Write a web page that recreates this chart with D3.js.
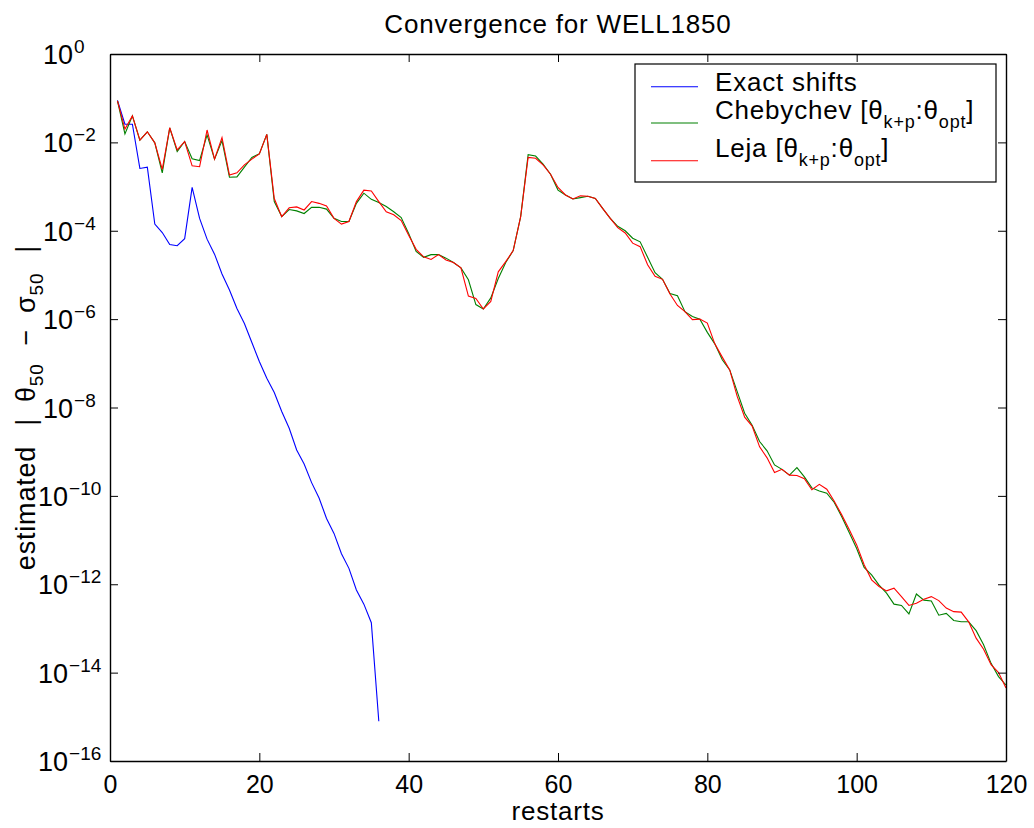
<!DOCTYPE html>
<html>
  <head>
    <meta charset="UTF-8" />
    <script src="https://d3js.org/d3.v7.min.js"></script>
    <style>
      body { margin: 0; background: #fff; }
      text { font-family: "Liberation Sans", Arial, Helvetica, sans-serif; fill: #000; }
    </style>
    <title>Convergence for WELL1850</title>
  </head>

  <body>
    <div id="chart"></div>
    <script type="text/javascript">
      // log10 of the estimated error, one value per restart (1, 2, 3, ...)
      const exactShiftsLog = [
        -1.05, -1.59, -1.59, -2.59, -2.56, -3.85, -4.04, -4.31, -4.34, -4.18,
        -3.02, -3.72, -4.19, -4.53, -4.98, -5.34, -5.76, -6.10, -6.53, -6.96,
        -7.34, -7.66, -8.09, -8.47, -8.96, -9.28, -9.70, -10.05, -10.51, -10.85,
        -11.31, -11.64, -12.13, -12.45, -12.87, -15.10
      ];
      const chebychevLog = [
        -1.06, -1.81, -1.40, -1.95, -1.76, -2.01, -2.69, -1.67, -2.21, -1.98,
        -2.37, -2.41, -1.83, -2.38, -1.96, -2.79, -2.78, -2.56, -2.34, -2.26,
        -1.82, -3.34, -3.68, -3.52, -3.55, -3.61, -3.47, -3.47, -3.51, -3.72,
        -3.79, -3.79, -3.38, -3.15, -3.29, -3.36, -3.45, -3.57, -3.70, -4.06,
        -4.47, -4.60, -4.54, -4.54, -4.62, -4.72, -4.84, -5.11, -5.67, -5.77,
        -5.52, -5.08, -4.72, -4.45, -3.68, -2.28, -2.31, -2.49, -2.72, -3.08,
        -3.19, -3.28, -3.25, -3.22, -3.27, -3.50, -3.72, -3.90, -4.00, -4.17,
        -4.25, -4.60, -4.95, -5.10, -5.42, -5.47, -5.83, -5.94, -6.00, -6.30,
        -6.56, -6.92, -7.15, -7.64, -8.13, -8.40, -8.77, -8.98, -9.30, -9.40,
        -9.53, -9.36, -9.57, -9.82, -9.89, -9.94, -10.15, -10.47, -10.83, -11.19,
        -11.62, -11.79, -12.02, -12.20, -12.45, -12.48, -12.67, -12.22, -12.36, -12.38,
        -12.70, -12.66, -12.82, -12.85, -12.85, -13.05, -13.37, -13.79, -14.09, -14.28
      ];
      const lejaLog = [
        -1.06, -1.70, -1.40, -1.95, -1.76, -2.01, -2.61, -1.67, -2.17, -1.98,
        -2.53, -2.55, -1.72, -2.38, -1.89, -2.74, -2.69, -2.51, -2.38, -2.26,
        -1.82, -3.27, -3.68, -3.48, -3.46, -3.53, -3.34, -3.38, -3.44, -3.72,
        -3.85, -3.79, -3.34, -3.08, -3.10, -3.34, -3.57, -3.64, -3.77, -4.10,
        -4.42, -4.59, -4.65, -4.54, -4.66, -4.72, -4.84, -5.48, -5.53, -5.77,
        -5.60, -4.93, -4.70, -4.45, -3.68, -2.34, -2.36, -2.51, -2.72, -3.02,
        -3.19, -3.28, -3.21, -3.22, -3.27, -3.50, -3.72, -3.93, -4.05, -4.28,
        -4.36, -4.77, -5.03, -5.10, -5.43, -5.69, -5.83, -6.01, -6.00, -6.09,
        -6.56, -6.86, -7.15, -7.75, -8.22, -8.42, -8.89, -9.14, -9.47, -9.40,
        -9.53, -9.54, -9.61, -9.86, -9.74, -9.85, -10.12, -10.43, -10.76, -11.11,
        -11.56, -11.90, -12.05, -12.15, -12.09, -12.28, -12.48, -12.43, -12.34, -12.28,
        -12.37, -12.54, -12.62, -12.63, -12.85, -13.22, -13.47, -13.82, -14.00, -14.35
      ];
      const xTicks = [0, 20, 40, 60, 80, 100, 120];
      const yTickExps = [0, -2, -4, -6, -8, -10, -12, -14, -16];

      const series = [
        { name: "Exact shifts", sub: null, color: "#0000ff", vals: exactShiftsLog },
        { name: "Chebychev [θ", sub: true, color: "#008000", vals: chebychevLog },
        { name: "Leja [θ", sub: true, color: "#ff0000", vals: lejaLog }
      ];

      const w = 1034, h = 828;
      const plotLeft = 110, plotRight = 1006, plotTop = 54, plotBottom = 761;

      const svg = d3.select("#chart").append("svg").attr("width", w).attr("height", h);

      const xScale = d3.scaleLinear().domain([0, 120]).range([plotLeft, plotRight]);
      const yScale = d3.scaleLog().domain([1e-16, 1]).range([plotBottom, plotTop]);

      // lines
      const line = d3.line()
        .x(function (d, i) { return xScale(i + 1); })
        .y(function (d) { return yScale(Math.pow(10, d)); });

      series.forEach(function (s) {
        svg.append("path")
          .datum(s.vals)
          .attr("d", line)
          .attr("fill", "none")
          .attr("stroke", s.color)
          .attr("stroke-width", 1.1);
      });

      // axes (ticks point inward, box on)
      function styleAxis(g) {
        g.select(".domain").attr("stroke", "#000").attr("stroke-width", 1.4);
        g.selectAll(".tick line").attr("stroke", "#000").attr("stroke-width", 1);
      }

      svg.append("g")
        .attr("transform", "translate(0," + plotBottom + ")")
        .call(d3.axisBottom(xScale).tickValues(xTicks).tickSizeInner(-8).tickSizeOuter(0).tickPadding(14))
        .call(styleAxis)
        .selectAll("text")
        .attr("font-size", 25)
        .attr("font-family", "Liberation Sans, Arial, sans-serif")
        .attr("fill", "#000");

      svg.append("g")
        .attr("transform", "translate(0," + plotTop + ")")
        .call(d3.axisTop(xScale).tickValues(xTicks).tickSizeInner(-8).tickSizeOuter(0).tickFormat(""))
        .call(styleAxis);

      svg.append("g")
        .attr("transform", "translate(" + plotLeft + ",0)")
        .call(d3.axisLeft(yScale).tickValues(yTickExps.map(function (e) { return Math.pow(10, e); }))
          .tickSizeInner(-8).tickSizeOuter(0).tickFormat(""))
        .call(styleAxis);

      svg.append("g")
        .attr("transform", "translate(" + plotRight + ",0)")
        .call(d3.axisRight(yScale).tickValues(yTickExps.map(function (e) { return Math.pow(10, e); }))
          .tickSizeInner(-8).tickSizeOuter(0).tickFormat(""))
        .call(styleAxis);

      // y tick labels as 10^e ("10" shifts left a little for two-digit exponents)
      const yLabels = svg.selectAll(".ylab")
        .data(yTickExps)
        .enter()
        .append("text")
        .attr("class", "ylab")
        .attr("x", function (d) { return Math.abs(d) >= 10 ? 38 : 43; })
        .attr("y", function (d) { return yScale(Math.pow(10, d)) + 10; })
        .attr("font-size", 27);
      yLabels.append("tspan").text("10");
      yLabels.append("tspan")
        .attr("dy", -11)
        .attr("dx", 1)
        .attr("font-size", 19)
        .text(function (d) { return d === 0 ? "0" : "\u2212" + Math.abs(d); });

      // title and axis labels
      svg.append("text")
        .attr("x", (plotLeft + plotRight) / 2)
        .attr("y", 33)
        .attr("text-anchor", "middle")
        .attr("font-size", 26)
        .attr("letter-spacing", 0.8)
        .text("Convergence for WELL1850");

      svg.append("text")
        .attr("x", (plotLeft + plotRight) / 2)
        .attr("y", 820)
        .attr("text-anchor", "middle")
        .attr("font-size", 26)
        .attr("letter-spacing", 0.8)
        .text("restarts");

      const ylab = svg.append("text")
        .attr("transform", "translate(35," + (plotTop + plotBottom) / 2 + ") rotate(-90)")
        .attr("text-anchor", "middle")
        .attr("font-size", 27)
        .attr("letter-spacing", 0.8);
      ylab.append("tspan").text("estimated");
      ylab.append("tspan").attr("dx", 20).text("|");
      ylab.append("tspan").attr("dx", 16).text("θ");
      ylab.append("tspan").attr("dy", 8).attr("font-size", 19).text("50");
      ylab.append("tspan").attr("dy", -8).attr("dx", 18).text("\u2212");
      ylab.append("tspan").attr("dx", 16).text("σ");
      ylab.append("tspan").attr("dy", 8).attr("font-size", 19).text("50");
      ylab.append("tspan").attr("dy", -8).attr("dx", 20).text("|");

      // legend
      const legend = svg.append("g");
      legend.append("rect")
        .attr("x", 635)
        .attr("y", 64)
        .attr("width", 361)
        .attr("height", 118)
        .attr("fill", "#fff")
        .attr("stroke", "#000")
        .attr("stroke-width", 1.2);

      const lineYs = [86.7, 123, 160.7];
      const textYs = [91, 119, 157];
      series.forEach(function (s, i) {
        legend.append("line")
          .attr("x1", 651).attr("x2", 698)
          .attr("y1", lineYs[i]).attr("y2", lineYs[i])
          .attr("stroke", s.color)
          .attr("stroke-width", 1.1);
        const t = legend.append("text")
          .attr("x", 715)
          .attr("y", textYs[i])
          .attr("font-size", 26)
          .attr("letter-spacing", 0.8);
        t.append("tspan").text(s.name);
        if (s.sub) {
          t.append("tspan").attr("dy", 9).attr("font-size", 18).text("k+p");
          t.append("tspan").attr("dy", -9).text(":θ");
          t.append("tspan").attr("dy", 9).attr("font-size", 18).text("opt");
          t.append("tspan").attr("dy", -9).text("]");
        }
      });
    </script>
  </body>
</html>
